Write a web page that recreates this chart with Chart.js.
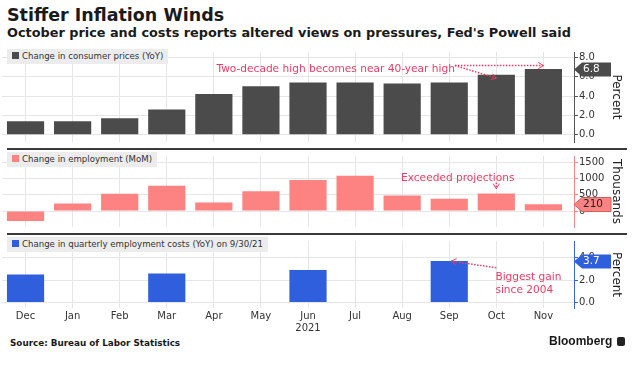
<!DOCTYPE html>
<html>
<head>
<meta charset="utf-8">
<script src="https://cdn.jsdelivr.net/npm/chart.js@4.4.1/dist/chart.umd.min.js"></script>
<style>
  body { margin: 0; width: 639px; height: 369px; position: relative; overflow: hidden; background: #fff; font-family: 'DejaVu Sans', sans-serif; color: #1a1a1a; }
  canvas { position: absolute; left: 0; }
  .abs { position: absolute; white-space: nowrap; }
  #title { left: 7px; top: 5px; font-size: 17.5px; line-height: 20px; font-weight: bold; }
  #subtitle { left: 7px; top: 25px; font-size: 12.85px; line-height: 15px; font-weight: bold; }
  .legend { position: absolute; left: 7px; height: 15px; line-height: 15px; padding: 0 5px; background: #ececec; font-size: 8.6px; color: #333; white-space: nowrap; }
  .legend i { display: inline-block; width: 7px; height: 7px; margin-right: 3px; }
  .rule { position: absolute; left: 7px; width: 620px; height: 2px; background: #3a3a3a; }
  #source { left: 10px; top: 337px; font-size: 8.8px; line-height: 12px; font-weight: bold; }
  #brand { left: 549px; top: 334px; font: bold 12px 'Liberation Sans', sans-serif; line-height: 14px; }
  #brand b { display: inline-block; width: 8px; height: 9px; background: #222; border-radius: 2px; margin-left: 5px; vertical-align: -1px; }
</style>
</head>
<body>
<div id="title" class="abs">Stiffer Inflation Winds</div>
<div id="subtitle" class="abs">October price and costs reports altered views on pressures, Fed's Powell said</div>

<canvas id="chart-cpi" width="639" height="104" style="top:45px"></canvas>
<canvas id="chart-jobs" width="639" height="85" style="top:149px"></canvas>
<canvas id="chart-eci" width="639" height="102" style="top:234px"></canvas>

<div class="legend" id="legend-cpi" style="top:49px"></div>
<div class="legend" id="legend-jobs" style="top:152px"></div>
<div class="legend" id="legend-eci" style="top:237px"></div>

<div class="rule" style="top:148px"></div>
<div class="rule" style="top:233px"></div>

<div id="source" class="abs">Source: Bureau of Labor Statistics</div>
<div id="brand" class="abs">Bloomberg<b></b></div>

<script>
const months = ['Dec', 'Jan', 'Feb', 'Mar', 'Apr', 'May', ['Jun', '2021'], 'Jul', 'Aug', 'Sep', 'Oct', 'Nov'];
const cpiYoY = [1.4, 1.4, 1.7, 2.6, 4.2, 5.0, 5.4, 5.4, 5.3, 5.4, 6.2, 6.8];
const payrollsMoM = [-306, 233, 536, 785, 269, 614, 962, 1091, 483, 379, 546, 210];
const eciYoY = [2.5, null, null, 2.6, null, null, 2.9, null, null, 3.7, null, null];

const cpiTicks = [0, 2, 4, 6, 8];
const jobsTicks = [0, 500, 1000, 1500];
const eciTicks = [0, 2, 4];

const cpiLabel = 'Change in consumer prices (YoY)';
const jobsLabel = 'Change in employment (MoM)';
const eciLabel = 'Change in quarterly employment costs (YoY) on 9/30/21';

const NOTE_COLOR = '#ec3c64';
const GRID = '#e6e6e6';

Chart.defaults.font.family = "'DejaVu Sans', sans-serif";

function drawArrow(ctx, x1, y1, x2, y2) {
  ctx.setLineDash([1.5, 1.5]);
  ctx.lineWidth = 1.5;
  ctx.beginPath();
  ctx.moveTo(x1, y1);
  ctx.lineTo(x2, y2);
  ctx.stroke();
  const a = Math.atan2(y2 - y1, x2 - x1), h = 6;
  ctx.setLineDash([]);
  ctx.lineWidth = 1;
  ctx.beginPath();
  ctx.moveTo(x2 - h * Math.cos(a - 0.55), y2 - h * Math.sin(a - 0.55));
  ctx.lineTo(x2, y2);
  ctx.lineTo(x2 - h * Math.cos(a + 0.55), y2 - h * Math.sin(a + 0.55));
  ctx.stroke();
}

// pink annotation texts and arrows, placed in data space
const notesPlugin = {
  id: 'notes',
  afterDatasetsDraw(chart, args, opts) {
    const { ctx, scales: { x, y } } = chart;
    ctx.save();
    ctx.fillStyle = NOTE_COLOR;
    ctx.strokeStyle = NOTE_COLOR;
    ctx.font = "10.6px 'DejaVu Sans', sans-serif";
    ctx.textBaseline = 'middle';
    (opts.texts || []).forEach(t => {
      ctx.textAlign = t.align || 'left';
      ctx.fillText(t.text, x.getPixelForValue(t.x), y.getPixelForValue(t.y));
    });
    (opts.arrows || []).forEach(a => {
      drawArrow(ctx, x.getPixelForValue(a.from[0]), y.getPixelForValue(a.from[1]),
                     x.getPixelForValue(a.to[0]), y.getPixelForValue(a.to[1]));
    });
    ctx.restore();
  }
};

// last-value tag on the right axis
const tagPlugin = {
  id: 'tag',
  afterDraw(chart, args, opts) {
    const pts = chart.data.datasets[0].data.filter(p => p.y !== null);
    const last = pts[pts.length - 1].y;
    const { ctx, chartArea, scales: { y } } = chart;
    const py = Math.round(y.getPixelForValue(last)) + 0.5;
    const x0 = chartArea.right;
    ctx.save();
    ctx.beginPath();
    ctx.moveTo(x0, py);
    ctx.lineTo(x0 + 8, py - 7);
    ctx.lineTo(x0 + 37, py - 7);
    ctx.lineTo(x0 + 37, py + 7);
    ctx.lineTo(x0 + 8, py + 7);
    ctx.closePath();
    ctx.fillStyle = opts.bg;
    ctx.fill();
    if (opts.border) { ctx.strokeStyle = opts.border; ctx.lineWidth = 1; ctx.stroke(); }
    ctx.fillStyle = opts.fg;
    ctx.font = "10.5px 'DejaVu Sans', sans-serif";
    ctx.textAlign = 'left';
    ctx.textBaseline = 'middle';
    ctx.fillText(opts.fmt(last), x0 + 9, py);
    ctx.restore();
  }
};

function makePanel(p) {
  document.getElementById('legend-' + p.key).innerHTML =
    '<i style="background:' + p.color + '"></i>' + p.label;
  return new Chart(document.getElementById('chart-' + p.key), {
    type: 'bar',
    data: {
      datasets: [{
        label: p.label,
        data: p.values.map((v, i) => ({ x: i, y: v })),
        backgroundColor: p.color,
        categoryPercentage: 1,
        barPercentage: 0.79,
      }]
    },
    plugins: [notesPlugin, tagPlugin],
    options: {
      responsive: false,
      animation: false,
      layout: { padding: { left: 2, right: 0, top: p.pad[0], bottom: p.pad[1] } },
      plugins: {
        legend: { display: false },
        tooltip: { enabled: false },
        notes: p.notes,
        tag: { bg: p.color, fg: p.tagText, border: p.tagBorder, fmt: p.fmt },
      },
      scales: {
        x: {
          type: 'linear', min: -0.5, max: 11.65, offset: false,
          grid: { color: GRID, drawTicks: false, offset: false },
          border: { display: false },
          ticks: {
            display: !!p.showMonths, autoSkip: false, maxRotation: 0,
            padding: 2, color: '#333', font: { size: 10 },
            callback: v => months[v],
          },
          afterBuildTicks: s => { s.ticks = months.map((m, i) => ({ value: i })); },
          afterFit: s => { s.height = p.showMonths ? 28 : 0; },
        },
        y: {
          position: 'right', min: p.min, max: p.max,
          grid: { color: GRID, tickLength: 4, tickColor: p.axis },
          border: { color: p.axis, width: 1 },
          ticks: { padding: 1, color: '#333', font: { size: 10 }, callback: p.fmt },
          afterBuildTicks: s => { s.ticks = p.ticks.map(v => ({ value: v })); },
          title: { display: true, text: p.unit, color: '#222', font: { size: 12 }, padding: { top: 16 } },
          afterFit: s => { s.width = 65; },
        }
      }
    }
  });
}

makePanel({
  key: 'cpi', label: cpiLabel, values: cpiYoY, ticks: cpiTicks, color: '#4b4b4b', axis: '#555',
  unit: 'Percent', min: -0.75, max: 8.55, fmt: v => v.toFixed(1), tagText: '#fff',
  pad: [2, 2],
  notes: {
    texts: [{ text: 'Two-decade high becomes near 40-year high', x: 9.12, y: 6.8, align: 'right' }],
    arrows: [{ from: [9.12, 7.15], to: [11, 7.15] }, { from: [9.12, 7.15], to: [10, 5.85] }],
  },
});

makePanel({
  key: 'jobs', label: jobsLabel, values: payrollsMoM, ticks: jobsTicks, color: '#fd8282', axis: '#f58a8a',
  unit: 'Thousands', min: -490, max: 1700, fmt: v => String(v), tagText: '#222', tagBorder: '#d06060',
  pad: [2, 2],
  notes: {
    texts: [{ text: 'Exceeded projections', x: 9.18, y: 1000, align: 'center' }],
    arrows: [{ from: [10, 880], to: [10, 690] }],
  },
});

makePanel({
  key: 'eci', label: eciLabel, values: eciYoY, ticks: eciTicks, color: '#2f5fdc', axis: '#3a64d8',
  unit: 'Percent', min: -0.5, max: 5.5, fmt: v => v.toFixed(1), tagText: '#fff',
  pad: [1, 0], showMonths: true,
  notes: {
    texts: [
      { text: 'Biggest gain', x: 9.98, y: 2.25 },
      { text: 'since 2004', x: 9.98, y: 1.13 },
    ],
    arrows: [{ from: [10, 3.1], to: [9.04, 3.7] }],
  },
});
</script>
</body>
</html>
